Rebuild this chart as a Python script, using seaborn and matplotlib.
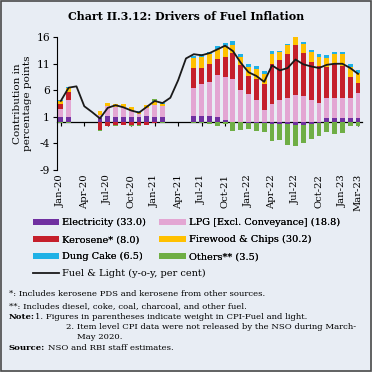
import numpy as np
import pandas as pd
import matplotlib
matplotlib.use("Agg")
import matplotlib.pyplot as plt
from matplotlib.patches import Patch, Rectangle
from matplotlib.lines import Line2D
import seaborn as sns

nan = np.nan
months = pd.date_range("2020-01-01", "2023-03-01", freq="MS").strftime("%b-%y").tolist()

electricity = [1.0, 1.0, nan, nan, nan, 0.8, 1.1, 1.0, 1.0, 0.9, 1.0, 1.1, 1.0, 1.0, nan, nan, nan,
               1.1, 1.1, 1.1, 1.0, 0.5, 0.0, 0.0, -0.2, -0.2, -0.2, -0.4, -0.4, -0.4, -0.5, -0.5,
               -0.4, -0.2, 0.75, 0.75, 0.75, 0.75, 0.75]
lpg = [1.5, 3.1, nan, nan, nan, 0.6, 2.0, 1.9, 1.9, 1.2, 0.6, 1.6, 2.2, 2.0, nan, nan, nan,
       5.4, 6.0, 6.4, 7.8, 8.1, 8.2, 6.1, 5.25, 4.1, 2.25, 3.4, 4.25, 4.6, 5.1, 4.9, 4.1, 3.6,
       3.8, 3.8, 3.8, 3.8, 4.7]
kerosene = [1.0, 1.6, nan, nan, nan, -1.4, -0.7, -0.5, -0.45, -0.5, -0.6, -0.45, -0.2, -0.05, nan, nan, nan,
            3.7, 3.1, 3.4, 3.1, 3.6, 4.8, 4.6, 3.4, 4.1, 5.0, 7.6, 7.4, 8.25, 9.5, 8.1, 7.2, 6.9,
            5.8, 6.4, 6.1, 3.9, 1.9]
firewood = [0.5, 0.8, nan, nan, nan, 0.8, 0.5, 0.6, 0.5, 0.7, 0.4, 0.45, 0.6, 0.4, nan, nan, nan,
            1.9, 2.1, 1.9, 1.9, 2.1, 1.6, 1.6, 1.75, 1.9, 1.9, 1.9, 1.6, 1.6, 1.5, 1.75, 1.9, 1.75,
            1.75, 1.9, 2.1, 2.0, 1.9]
dung = [0.1, 0.1, nan, nan, nan, -0.15, 0.1, -0.1, 0.1, -0.1, 0.2, 0.1, 0.1, 0.3, nan, nan, nan,
        0.4, 0.5, 0.5, 0.5, 0.6, 0.6, 0.5, 0.5, 0.5, 0.5, 0.5, 0.1, 0.3, 0.4, 0.4, 0.4, 0.5,
        0.55, 0.45, 0.45, 0.45, 0.5]
others = [-0.2, -0.1, nan, nan, nan, -0.1, -0.1, -0.1, -0.1, -0.2, -0.1, -0.1, 0.5, -0.1, nan, nan, nan,
          -0.1, -0.2, -0.3, -0.7, -0.3, -1.6, -1.5, -1.0, -1.4, -1.6, -3.2, -3.0, -3.9, -4.0, -3.4,
          -2.7, -2.4, -1.8, -2.25, -2.1, -0.75, -0.75]
fuel_light = [4.0, 6.5, 6.75, 3.0, 1.9, 0.7, 2.7, 3.2, 2.8, 2.2, 1.8, 2.9, 4.0, 3.6, 4.6, 7.9, 12.0,
              12.8, 12.6, 13.0, 13.7, 14.4, 13.4, 11.2, 9.4, 8.7, 7.6, 10.7, 9.75, 10.2, 11.8, 10.9,
              10.5, 10.2, 10.8, 11.0, 11.0, 10.2, 9.1]

series_names = ["Electricity (33.0)", "LPG [Excl. Conveyance] (18.8)", "Kerosene* (8.0)",
                "Firewood & Chips (30.2)", "Dung Cake (6.5)", "Others** (3.5)"]
series_vals = [electricity, lpg, kerosene, firewood, dung, others]
colors = ["#7030A0", "#E3A6D3", "#C51F2B", "#FFC000", "#1FB1E6", "#6FAE45"]
line_label = "Fuel & Light (y-o-y, per cent)"
ytick_vals = [-9, -4, 1, 6, 11, 16]
xtick_labels = ["Jan-20", "Apr-20", "Jul-20", "Oct-20", "Jan-21", "Apr-21", "Jul-21", "Oct-21",
                "Jan-22", "Apr-22", "Jul-22", "Oct-22", "Jan-23", "Mar-23"]

bg = "#E8EDF4"
serif = ["DejaVu Serif"]
plt.rcParams["font.family"] = serif

fig = plt.figure(figsize=(3.72, 3.72), dpi=100)
fig.patch.set_facecolor(bg)
ax = fig.add_axes([0.153, 0.543, 0.82, 0.357])
ax.set_facecolor(bg)

vals = np.nan_to_num(np.array(series_vals, dtype=float))
pos = np.clip(vals, 0, None).cumsum(axis=0)
neg = np.clip(vals, None, 0).cumsum(axis=0)
for k in range(len(series_names) - 1, -1, -1):
    for cum in (pos, neg):
        df = pd.DataFrame({"month": months, "v": cum[k]})
        sns.barplot(data=df, x="month", y="v", order=months, color=colors[k], saturation=1,
                    width=0.62, linewidth=0, errorbar=None, ax=ax)

sns.lineplot(x=np.arange(len(months)), y=fuel_light, color="#1a1a1a", linewidth=1.3, ax=ax)

ax.set_xlim(-0.5, len(months) - 0.5)
ax.set_ylim(-9, 16)
ax.set_yticks(ytick_vals)
ax.set_yticklabels([str(v) for v in ytick_vals], fontsize=7.7)
ax.set_xlabel("")
ax.set_ylabel("Contribution in\npercentage points", fontsize=7.5, linespacing=1.1, labelpad=3)
xt = [months.index(m) for m in xtick_labels]
ax.set_xticks(xt)
ax.set_xticklabels(xtick_labels, rotation=90, fontsize=7.2)
ax.tick_params(axis="x", length=0, pad=3)
ax.tick_params(axis="y", length=3, width=0.8, pad=2)
for s in ["top", "right", "bottom"]:
    ax.spines[s].set_visible(False)
ax.spines["left"].set_linewidth(0.8)

zero_frac = 9 / 25
sec = ax.secondary_xaxis(zero_frac)
sec.set_xticks(xt)
sec.set_xticklabels([])
sec.tick_params(length=3, width=0.8, direction="out")
sec.spines["bottom"].set_linewidth(0.9)

fig.text(0.5, 0.955, "Chart II.3.12: Drivers of Fuel Inflation", ha="center", va="center",
         fontsize=7.9, fontweight="bold")

patches = [Patch(facecolor=c, edgecolor="none", label=n) for c, n in zip(colors, series_names)]
line_h = Line2D([], [], color="#1a1a1a", lw=1.3, label=line_label)
handles = [patches[0], patches[2], patches[4], patches[1], patches[3], patches[5]]
leg_kw = dict(frameon=False, fontsize=7.0, handlelength=2.75, handleheight=0.6,
              handletextpad=0.3, labelspacing=0.8, borderpad=0, borderaxespad=0)
leg1 = fig.legend(handles=handles, ncol=2, loc="upper left", bbox_to_anchor=(0.088, 0.413),
                  columnspacing=1.35, **leg_kw)
fig.add_artist(leg1)
fig.legend(handles=[line_h], loc="upper left", bbox_to_anchor=(0.088, 0.277), **leg_kw)

fs = 6.1
fig.text(0.024, 0.21, "*: Includes kerosene PDS and kerosene from other sources.", fontsize=fs, va="center")
fig.text(0.024, 0.178, "**: Includes diesel, coke, coal, charcoal, and other fuel.", fontsize=fs, va="center")
fig.text(0.024, 0.147, "Note:", fontsize=fs, va="center", fontweight="bold")
fig.text(0.093, 0.147, "1. Figures in parentheses indicate weight in CPI-Fuel and light.", fontsize=fs, va="center")
fig.text(0.178, 0.12, "2. Item level CPI data were not released by the NSO during March-", fontsize=fs, va="center")
fig.text(0.207, 0.093, "May 2020.", fontsize=fs, va="center")
fig.text(0.024, 0.065, "Source:", fontsize=fs, va="center", fontweight="bold")
fig.text(0.128, 0.065, "NSO and RBI staff estimates.", fontsize=fs, va="center")

fig.add_artist(Rectangle((0.002, 0.002), 0.996, 0.996, transform=fig.transFigure, fill=False,
                         edgecolor="#4a4a4a", lw=1.2))

fig.savefig("out.png", dpi=100, facecolor=bg)
